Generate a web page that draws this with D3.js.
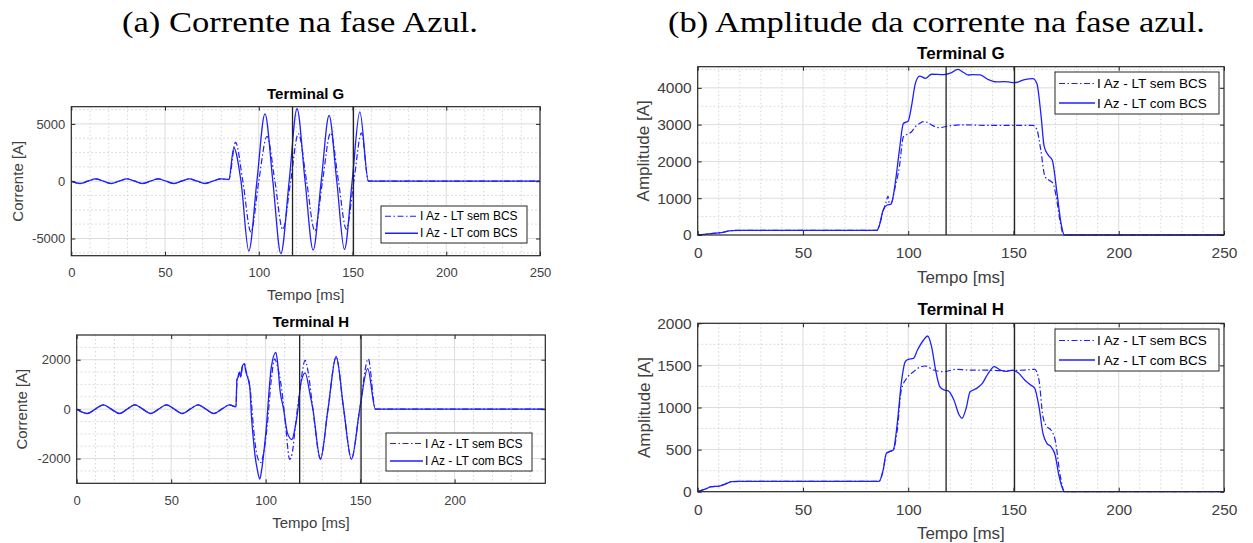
<!DOCTYPE html>
<html>
<head>
<meta charset="utf-8">
<script src="https://cdn.jsdelivr.net/npm/d3@7"></script>
<style>
  body { margin: 0; background: #fff; }
  svg { display: block; }
  text { font-family: "Liberation Sans", Arial, Helvetica, sans-serif; }
</style>
</head>
<body>
<svg id="fig" width="1253" height="543"></svg>
<script>
// ---------- tick labels and shared values ----------
const timeTicks = [0, 50, 100, 150, 200, 250];
const timeTicksShort = [0, 50, 100, 150, 200];
const currentTicksG = [-5000, 0, 5000];
const currentTicksH = [-2000, 0, 2000];
const amplitudeTicksG = [0, 1000, 2000, 3000, 4000];
const amplitudeTicksH = [0, 500, 1000, 1500, 2000];
const switchTimes = [118, 150.5];
const seriesLabels = ["I Az - LT sem BCS", "I Az - LT com BCS"];

// ---------- instantaneous current, terminal G  [t (ms), I (A)] ----------
const preFaultG = [[0, 0], [4.7, -200], [8.9, 0], [13, 200], [17.1, 0], [21.3, -200], [25.5, 0], [29.7, 200],
  [33.8, 0], [38, -200], [42.2, 0], [46.3, 200], [50.5, 0], [54.7, -200], [58.8, 0], [63, 200], [67.2, 0],
  [71.3, -200], [75.5, 0], [79.7, 200], [84, 150]];
const faultG_sem = [[87.6, 3390], [91.5, 0], [95.8, -4440], [100, 0], [104.4, 3920], [108.6, 0], [112.8, -4210],
  [117, 0], [121.1, 4150], [125.5, 0], [129.9, -4330], [134, 0], [138.3, 4210], [142.5, 0], [146.7, -4180],
  [150.7, 0], [154.8, 4210], [158.5, 0], [250, 0]];
const faultG_com = [[86.7, 2900], [90.5, 0], [94.7, -6100], [99, 0], [103.3, 5880], [107.5, 0], [111.8, -6320],
  [116.2, 0], [120.4, 6320], [124.7, 0], [129, -6020], [133.3, 0], [137.5, 5730], [141.6, 0], [145.7, -5960],
  [149.8, 0], [153.9, 6050], [158.5, 0], [250, 0]];

// ---------- instantaneous current, terminal H ----------
const preFaultH = [[0, 0], [5.6, -175], [9.8, 0], [14.1, 175], [18.3, 0], [22.6, -175], [26.7, 0], [30.8, 175],
  [35, 0], [39.2, -175], [43.3, 0], [47.5, 175], [51.7, 0], [55.9, -175], [60, 0], [64.2, 175], [68.4, 0],
  [72.6, -175], [76.7, 0], [80.9, 175], [84.3, 90]];
const faultH_sem = [[84.8, 1150], [85.5, 1350], [86.3, 1500], [87, 1350], [87.8, 1750], [89, 1800], [89.5, 1600],
  [92, 700], [93.5, -700], [95, -1700], [96.5, -2100], [97.6, -2160], [98.6, -1900], [100.8, -700], [103, 1200],
  [104.8, 2040], [106, 1800], [108.5, 800], [110.5, -600], [112.7, -2030], [114, -1800], [116, -500], [118, 700],
  [120.9, 1970], [122.5, 1500], [125, 0], [129, -2000], [133, 0], [137.3, 2100], [141.3, 0], [145.4, -2000],
  [149.8, 0], [154.3, 2040], [158.1, 0], [248, 0]];
const faultH_com = [[84.8, 1200], [85.5, 1300], [86.1, 1500], [86.8, 1300], [87.5, 1700], [88.8, 1840], [89.3, 1600],
  [91.6, 900], [92.5, -300], [93.5, -1230], [94.4, -1890], [95.7, -2490], [96.9, -2830], [97.8, -2500],
  [100.1, -960], [103, 1700], [105.4, 2300], [106.3, 1900], [107.6, 770], [109.5, 0], [111.5, -960],
  [113.9, -1230], [115.2, -900], [117.1, 0], [118.5, 1000], [120.9, 1470], [123.5, 600], [125, 0], [129, -2030],
  [133, 0], [137.3, 2130], [141.3, 0], [145.4, -2030], [149.8, 0], [154, 1640], [158.1, 0], [248, 0]];

// ---------- current amplitude, terminal G  [t (ms), |I| (A)] ----------
const preFaultAmpG = [[0, 0], [3, 15], [7.3, 45], [11.2, 63], [16, 120], [20, 125], [85.2, 125]];
const faultAmpG_sem = [[86.1, 226], [88.1, 650], [89.5, 900], [90.4, 1060], [91, 860], [92, 880], [93.8, 1300],
  [95.8, 1855], [97.7, 2670], [99.6, 2740], [101.5, 2800], [103.5, 2950], [105.4, 3030], [107.3, 3080],
  [109.2, 3060], [111.1, 2990], [115, 2920], [118.8, 2960], [126.5, 2995], [136.1, 2980], [155.3, 2980],
  [159.2, 2980], [161.1, 2870], [163, 2300], [165, 1580], [166.9, 1490], [168.8, 1400], [170.3, 1040],
  [172.3, 317], [173.8, 0], [250, 0]];
const faultAmpG_com = [[86.1, 226], [88.1, 680], [90, 815], [91.9, 840], [93.8, 1400], [95.8, 2300], [97.7, 3030],
  [100, 3100], [101.5, 3480], [103.4, 4120], [105.4, 4320], [108.2, 4260], [111.1, 4370], [116.9, 4360],
  [120, 4400], [123.6, 4500], [126.5, 4410], [128.5, 4350], [130.4, 4360], [134.2, 4350], [138, 4226],
  [141.9, 4160], [145, 4170], [147.7, 4160], [150.5, 4140], [155.3, 4226], [159.2, 4250], [161.1, 4120],
  [163, 3300], [164.6, 2400], [166.5, 2170], [168.4, 2036], [170.7, 1130], [172.6, 317], [174.2, 0], [250, 0]];

// ---------- current amplitude, terminal H ----------
const preFaultAmpH = [[0, 0], [4.4, 40], [6.4, 59], [10.2, 67], [13.1, 91], [16, 119], [20, 123], [86.1, 123]];
const faultAmpH_sem = [[88.1, 257], [89.6, 455], [91, 475], [92.9, 495], [94.8, 733], [96.7, 1208], [99.6, 1358],
  [102.5, 1425], [105.4, 1477], [108.2, 1493], [112.1, 1445], [116.9, 1425], [122.7, 1453], [128.4, 1445],
  [136.1, 1445], [143.8, 1437], [155.3, 1445], [160.1, 1453], [162.1, 1327], [164, 891], [165.9, 772],
  [167.8, 733], [169.8, 614], [172.3, 178], [174.2, 0], [250, 0]];
const faultAmpH_com = [[88.1, 257], [89.6, 455], [91, 475], [92.9, 495], [94.8, 812], [96.7, 1287], [98.6, 1544],
  [100, 1572], [102.5, 1584], [104.4, 1683], [107.3, 1802], [109.2, 1849], [111.1, 1723], [113, 1445],
  [115, 1247], [116.9, 1208], [118.8, 1200], [121.7, 1089], [124.2, 911], [125.5, 871], [127.5, 990],
  [129.4, 1188], [132.3, 1224], [135.2, 1287], [138, 1406], [140.9, 1485], [143.8, 1445], [146.7, 1430],
  [149.6, 1445], [152.5, 1406], [155.3, 1327], [158.2, 1267], [160.1, 1228], [162.1, 1010], [164, 693],
  [165.9, 574], [167.8, 535], [169.8, 436], [171.7, 178], [174.2, 0], [250, 0]];

// ---------- figure ----------
const svg = d3.select("#fig");
const lineBlue = "#1f1fff";
const frameColor = "#262626";
const tickTextColor = "#404040";

// column captions
svg.append("text")
  .attr("x", 122).attr("y", 32)
  .attr("textLength", 356).attr("lengthAdjust", "spacingAndGlyphs")
  .style("font-family", "'Liberation Serif', 'Times New Roman', serif")
  .style("font-size", "30px").attr("fill", "#000")
  .text("(a) Corrente na fase Azul.");
svg.append("text")
  .attr("x", 668).attr("y", 32)
  .attr("textLength", 537).attr("lengthAdjust", "spacingAndGlyphs")
  .style("font-family", "'Liberation Serif', 'Times New Roman', serif")
  .style("font-size", "30px").attr("fill", "#000")
  .text("(b) Amplitude da corrente na fase azul.");

const panels = [
  {
    id: "aG", box: { x0: 71.3, x1: 540, y0: 106.7, y1: 255.7 },
    xDomain: [0, 250], xTicks: timeTicks, yDomain: [-6500, 6500], yTicks: currentTicksG, yMinorStep: 1250,
    title: "Terminal G", yLabel: "Corrente [A]", yLabelX: 17, xLabelOffset: 39,
    sem: preFaultG.concat(faultG_sem), com: preFaultG.concat(faultG_com),
    legend: { x: 381, y: 206, w: 146, h: 37, sample: 33 },
    fs: { tick: 13, label: 15, title: 15, legend: 12 }
  },
  {
    id: "aH", box: { x0: 76.7, x1: 545.3, y0: 335, y1: 483.3 },
    xDomain: [0, 248], xTicks: timeTicksShort, yDomain: [-3000, 3000], yTicks: currentTicksH, yMinorStep: 500,
    title: "Terminal H", yLabel: "Corrente [A]", yLabelX: 21, xLabelOffset: 39,
    sem: preFaultH.concat(faultH_sem), com: preFaultH.concat(faultH_com),
    legend: { x: 386, y: 433, w: 146, h: 38, sample: 33 },
    fs: { tick: 13, label: 15, title: 15, legend: 12 }
  },
  {
    id: "bG", box: { x0: 697.7, x1: 1224, y0: 66.7, y1: 235 },
    xDomain: [0, 250], xTicks: timeTicks, yDomain: [0, 4575], yTicks: amplitudeTicksG, yMinorStep: 500,
    title: "Terminal G", yLabel: "Amplitude [A]", yLabelX: 643, xLabelOffset: 42,
    sem: preFaultAmpG.concat(faultAmpG_sem), com: preFaultAmpG.concat(faultAmpG_com),
    legend: { x: 1055, y: 72, w: 164, h: 42, sample: 36 },
    fs: { tick: 15.5, label: 17, title: 17, legend: 13.5 }
  },
  {
    id: "bH", box: { x0: 697.7, x1: 1224, y0: 323.3, y1: 491.7 },
    xDomain: [0, 250], xTicks: timeTicks, yDomain: [0, 2000], yTicks: amplitudeTicksH, yMinorStep: 250,
    title: "Terminal H", yLabel: "Amplitude [A]", yLabelX: 644, xLabelOffset: 42,
    sem: preFaultAmpH.concat(faultAmpH_sem), com: preFaultAmpH.concat(faultAmpH_com),
    legend: { x: 1055, y: 329, w: 164, h: 42, sample: 36 },
    fs: { tick: 15.5, label: 17, title: 17, legend: 13.5 }
  }
];

const defs = svg.append("defs");

function drawPanel(p) {
  const b = p.box;
  const x = d3.scaleLinear().domain(p.xDomain).range([b.x0, b.x1]);
  const y = d3.scaleLinear().domain(p.yDomain).range([b.y1, b.y0]);
  const g = svg.append("g").attr("class", "panel-" + p.id);

  defs.append("clipPath").attr("id", "clip-" + p.id)
    .append("rect").attr("x", b.x0).attr("y", b.y0 - 1)
    .attr("width", b.x1 - b.x0).attr("height", b.y1 - b.y0 + 2);

  // minor grid (dotted)
  const xMinor = d3.range(p.xDomain[0] + 10, p.xDomain[1], 10).filter(v => !p.xTicks.includes(v));
  const yMinor = d3.range(Math.ceil(p.yDomain[0] / p.yMinorStep) * p.yMinorStep, p.yDomain[1], p.yMinorStep)
    .filter(v => !p.yTicks.includes(v) && v > p.yDomain[0]);
  const grid = g.append("g");
  grid.selectAll("line.xm").data(xMinor).join("line")
    .attr("x1", d => x(d)).attr("x2", d => x(d)).attr("y1", b.y0).attr("y2", b.y1)
    .attr("stroke", "#c8c8c8").attr("stroke-width", 0.8).attr("stroke-dasharray", "1.5,2.5");
  grid.selectAll("line.ym").data(yMinor).join("line")
    .attr("y1", d => y(d)).attr("y2", d => y(d)).attr("x1", b.x0).attr("x2", b.x1)
    .attr("stroke", "#c8c8c8").attr("stroke-width", 0.8).attr("stroke-dasharray", "1.5,2.5");
  // major grid
  grid.selectAll("line.xM").data(p.xTicks.filter(v => v > p.xDomain[0] && v < p.xDomain[1])).join("line")
    .attr("x1", d => x(d)).attr("x2", d => x(d)).attr("y1", b.y0).attr("y2", b.y1)
    .attr("stroke", "#dcdcdc").attr("stroke-width", 1);
  grid.selectAll("line.yM").data(p.yTicks.filter(v => v > p.yDomain[0] && v < p.yDomain[1])).join("line")
    .attr("y1", d => y(d)).attr("y2", d => y(d)).attr("x1", b.x0).attr("x2", b.x1)
    .attr("stroke", "#dcdcdc").attr("stroke-width", 1);

  // series
  const line = d3.line().x(d => x(d[0])).y(d => y(d[1])).curve(d3.curveMonotoneX);
  const plot = g.append("g").attr("clip-path", `url(#clip-${p.id})`);
  plot.append("path").datum(p.sem).attr("d", line)
    .attr("fill", "none").attr("stroke", lineBlue).attr("stroke-width", 1.2)
    .attr("stroke-dasharray", "6,2.5,1.5,2.5");
  plot.append("path").datum(p.com).attr("d", line)
    .attr("fill", "none").attr("stroke", lineBlue).attr("stroke-width", 1.3);

  // switching instants
  g.selectAll("line.mark").data(switchTimes).join("line")
    .attr("x1", d => x(d)).attr("x2", d => x(d)).attr("y1", b.y0).attr("y2", b.y1)
    .attr("stroke", "#222").attr("stroke-width", 1.3);

  // axes (ticks inside, MATLAB style box)
  const styleAxis = (sel, fs) => {
    sel.select(".domain").remove();
    sel.selectAll(".tick line").attr("stroke", frameColor).attr("stroke-width", 1);
    sel.selectAll(".tick text").attr("fill", tickTextColor)
      .style("font-size", fs + "px").style("font-family", "'Liberation Sans', Arial, sans-serif");
  };
  g.append("g").attr("transform", `translate(0,${b.y1})`)
    .call(d3.axisBottom(x).tickValues(p.xTicks).tickSize(-4).tickPadding(12).tickFormat(d => String(d)))
    .call(s => styleAxis(s, p.fs.tick));
  g.append("g").attr("transform", `translate(0,${b.y0})`)
    .call(d3.axisTop(x).tickValues(p.xTicks).tickSize(-4).tickFormat(() => ""))
    .call(s => styleAxis(s, p.fs.tick));
  g.append("g").attr("transform", `translate(${b.x0},0)`)
    .call(d3.axisLeft(y).tickValues(p.yTicks).tickSize(-4).tickPadding(6).tickFormat(d => String(d)))
    .call(s => styleAxis(s, p.fs.tick));
  g.append("g").attr("transform", `translate(${b.x1},0)`)
    .call(d3.axisRight(y).tickValues(p.yTicks).tickSize(-4).tickFormat(() => ""))
    .call(s => styleAxis(s, p.fs.tick));

  // frame
  g.append("rect").attr("x", b.x0).attr("y", b.y0).attr("width", b.x1 - b.x0).attr("height", b.y1 - b.y0)
    .attr("fill", "none").attr("stroke", frameColor).attr("stroke-width", 1.2);

  // title and axis labels
  g.append("text").attr("x", (b.x0 + b.x1) / 2).attr("y", b.y0 - 13.5)
    .attr("text-anchor", "middle").attr("dominant-baseline", "central")
    .style("font-size", p.fs.title + "px").style("font-weight", "bold").attr("fill", "#000")
    .text(p.title);
  g.append("text").attr("x", (b.x0 + b.x1) / 2).attr("y", b.y1 + p.xLabelOffset)
    .attr("text-anchor", "middle").attr("dominant-baseline", "central")
    .style("font-size", p.fs.label + "px").attr("fill", tickTextColor)
    .text("Tempo [ms]");
  g.append("text")
    .attr("transform", `translate(${p.yLabelX},${(b.y0 + b.y1) / 2}) rotate(-90)`)
    .attr("text-anchor", "middle").attr("dominant-baseline", "central")
    .style("font-size", p.fs.label + "px").attr("fill", tickTextColor)
    .text(p.yLabel);

  // legend
  const L = p.legend;
  const lg = g.append("g");
  lg.append("rect").attr("x", L.x).attr("y", L.y).attr("width", L.w).attr("height", L.h)
    .attr("fill", "#fff").attr("stroke", frameColor).attr("stroke-width", 1);
  seriesLabels.forEach((label, i) => {
    const cy = L.y + L.h * (i + 0.5) / 2 + (i === 0 ? 1 : -0.5);
    lg.append("line").attr("x1", L.x + 4).attr("x2", L.x + 4 + L.sample).attr("y1", cy).attr("y2", cy)
      .attr("stroke", lineBlue).attr("stroke-width", i === 0 ? 1.2 : 1.3)
      .attr("stroke-dasharray", i === 0 ? "6,2.5,1.5,2.5" : null);
    lg.append("text").attr("x", L.x + 6 + L.sample).attr("y", cy)
      .attr("dominant-baseline", "central")
      .style("font-size", p.fs.legend + "px").attr("fill", "#000")
      .text(label);
  });
}

panels.forEach(drawPanel);
</script>
</body>
</html>
